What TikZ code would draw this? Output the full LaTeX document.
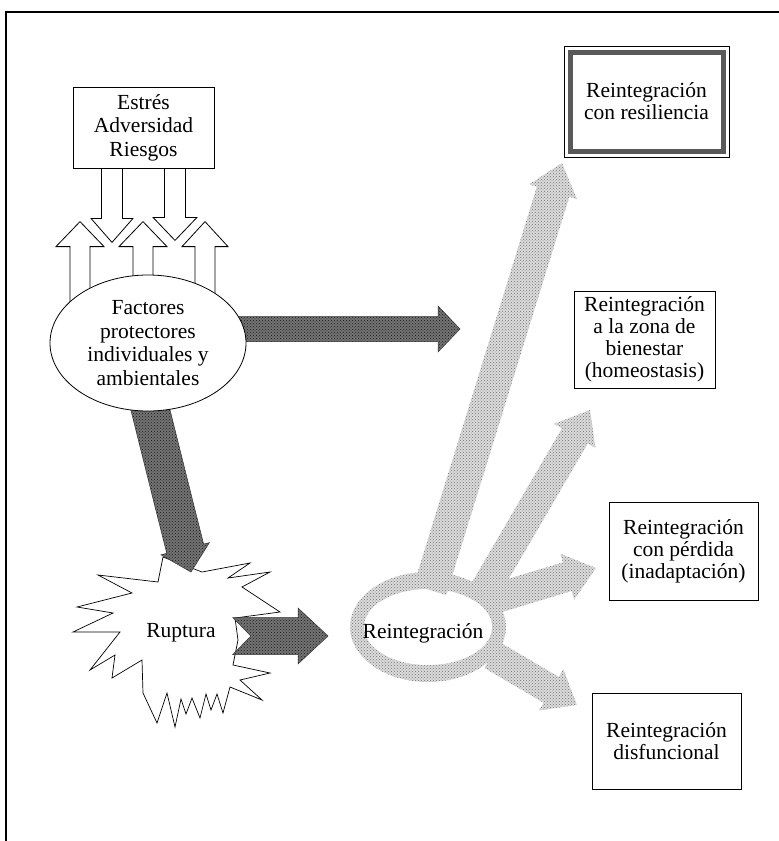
\documentclass[tikz,border=0pt]{standalone}
\usepackage{fontspec}
\setmainfont{Liberation Serif}
\usetikzlibrary{calc,shapes.geometric,patterns,backgrounds}

\tikzset{
  txt/.style={font=\fontsize{21.5}{23.5}\selectfont, align=center, inner sep=0pt},
  plainbox/.style={txt, font=\fontsize{21.5}{22}\selectfont, draw, line width=0.8pt, fill=white},
  hollow/.style={draw, line width=0.8pt, fill=white, line join=miter},
  darkarrow/.style={draw=black!80, line width=0.5pt, preaction={fill=black!55},
    pattern=crosshatch dots, pattern color=black!90},
  lightarrow/.style={preaction={fill=black!14}, pattern=crosshatch dots, pattern color=black!55},
}

% fat arrow: [style]{from}{to}{shaft half width}{head half width}{head length}{tail notch}
\newcommand{\fatarrow}[7][]{%
  \path[#1] let \p1=(#2), \p2=(#3),
      \n1={atan2(\y2-\y1,\x2-\x1)}, \n2={veclen(\x2-\x1,\y2-\y1)} in
    [shift={(\p1)}, rotate=\n1]
    (0pt,-#4) -- (\n2-#6,-#4) -- (\n2-#6,-#5) -- (\n2,0pt)
    -- (\n2-#6,#5) -- (\n2-#6,#4) -- (0pt,#4) -- (#7,0pt) -- cycle;}

\begin{document}
\begin{tikzpicture}[x=1pt,y=-1pt]
\useasboundingbox (0,0) rectangle (779,841);
\draw[line width=1.5pt] (6,841) -- (6,12) -- (779,12);

% nodes
\node[plainbox, font=\fontsize{21.5}{23.5}\selectfont, minimum width=141pt, minimum height=81pt] (estres) at (143.5,127.5) {Estrés\\Adversidad\\Riesgos};
\node[txt, ellipse, draw, line width=0.8pt, fill=white, minimum width=196pt, minimum height=136pt] (factores) at (148,343)
  {Factores\\protectores\\individuales y\\ambientales};
\node[txt] (ruptura) at (181,633) {Ruptura};
\node[txt] (reint) at (423,633) {Reintegración};

\node[plainbox, draw=black!65, line width=5pt, outer sep=0pt, minimum width=153pt, minimum height=99pt] (resil) at (646.5,101.5)
  {Reintegración\\con resiliencia};
\draw[line width=0.8pt] ($(resil.north west)+(-6,-6)$) rectangle ($(resil.south east)+(6,6)$);
\node[plainbox, minimum width=141pt, minimum height=97pt] (bienestar) at (644.5,339.5)
  {Reintegración\\a la zona de\\bienestar\\(homeostasis)};
\node[plainbox, minimum width=149pt, minimum height=98pt] (perdida) at (683.5,551)
  {Reintegración\\con pérdida\\(inadaptación)};
\node[plainbox, minimum width=149pt, minimum height=96pt] (disfun) at (666.5,741)
  {Reintegración\\disfuncional};

% arrow ends
\coordinate (lc) at (428,627);
\coordinate (s1) at (430,590);
\coordinate (s2) at (482,595);
\coordinate (s3) at (490,600);
\coordinate (s4) at (492,655);
\coordinate (t1) at (562,163);
\coordinate (t2) at (590,410);
\coordinate (t3) at (596,568);
\coordinate (t4) at (577,705);
\coordinate (d1tip) at (460,329);
\coordinate (d2tip) at (191,572);
\coordinate (d3tip) at (328,636);

\begin{pgfonlayer}{background}
% loop round the reintegration
\path[lightarrow] (lc) ellipse (78 and 55);
\fill[white] (lc) ellipse (64 and 38);
\fatarrow[lightarrow]{s1}{t1}{17pt}{25pt}{30pt}{0pt}
\fatarrow[lightarrow]{s2}{t2}{15pt}{24pt}{30pt}{0pt}
\fatarrow[lightarrow]{s3}{t3}{15pt}{24pt}{30pt}{0pt}
\fatarrow[lightarrow]{s4}{t4}{15pt}{24pt}{30pt}{0pt}

% rupture star
\draw[line width=0.7pt, fill=white, line join=miter]
  (98,575) -- (158,582) -- (163,557) -- (202,572) -- (250,563) -- (228,578)
  -- (270,572) -- (242,587) -- (280,612) -- (235,618) -- (238,640) -- (233,665)
  -- (270,673) -- (240,680) -- (262,700) -- (230,687) -- (223,713) -- (217,694)
  -- (211,710) -- (206,694) -- (200,718) -- (192,698) -- (186,714) -- (181,699)
  -- (175,727) -- (167,693) -- (157,723) -- (143,693) -- (142,660) -- (112,678)
  -- (115,655) -- (90,670) -- (120,632) -- (73,632) -- (113,613) -- (77,607)
  -- (132,593) -- cycle;

\fatarrow[darkarrow]{$(factores.south)+(-1,-15)$}{d2tip}{19pt}{25pt}{24pt}{0pt}
\fatarrow[darkarrow]{$(factores.east)+(-15,-14)$}{d1tip}{12.5pt}{23pt}{22pt}{0pt}
\fatarrow[darkarrow]{$(ruptura.east)+(17,3)$}{d3tip}{18.5pt}{28pt}{30pt}{18pt}

% stress against protection
\fatarrow[hollow]{$(estres.south)+(-31.5,0)$}{$(estres.south)+(-31.5,74)$}{10.5pt}{21pt}{24pt}{0pt}
\fatarrow[hollow]{$(estres.south)+(31.5,0)$}{$(estres.south)+(31.5,72)$}{10.5pt}{22pt}{23pt}{0pt}
\fatarrow[hollow]{$(factores.north)+(-68,45)$}{$(factores.north)+(-68,-53)$}{10pt}{24pt}{25pt}{0pt}
\fatarrow[hollow]{$(factores.north)+(-5,30)$}{$(factores.north)+(-5,-53)$}{10pt}{24pt}{25pt}{0pt}
\fatarrow[hollow]{$(factores.north)+(57,45)$}{$(factores.north)+(57,-53)$}{10pt}{23pt}{25pt}{0pt}
\end{pgfonlayer}

\end{tikzpicture}
\end{document}
